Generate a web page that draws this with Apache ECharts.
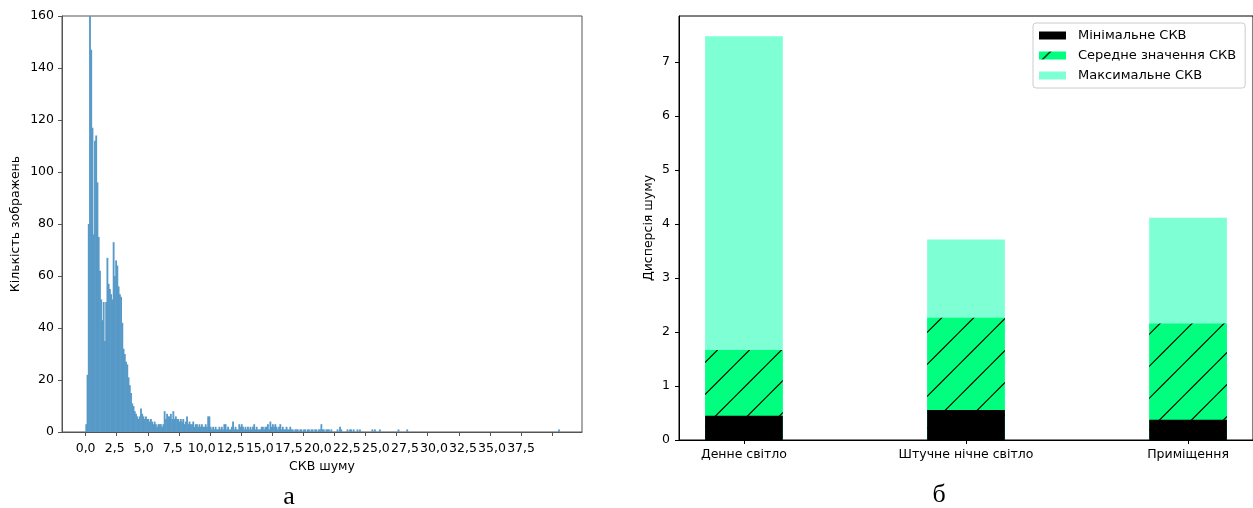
<!DOCTYPE html>
<html><head><meta charset="utf-8">
<script src="https://cdn.jsdelivr.net/npm/echarts@6/dist/echarts.min.js"></script>
<style>html,body{margin:0;padding:0;background:#fff}#c{width:1253px;height:508px}</style>
</head><body><div id="c"></div>
<script>
// ---------- Panel (а): histogram of noise SKV ----------
const histBinWidth = 0.1;           // bins start at 0.0
const histCounts = [
  3, 22, 80, 160, 147, 117, 76, 112, 114, 96,
  75, 62, 51, 43, 50, 35, 50, 67, 57, 55,
  53, 51, 73, 60, 66, 64, 56, 53, 52, 42,
  32, 30, 27, 26, 21, 18, 15, 11, 10, 8,
  7, 6, 5, 6, 9, 7, 6, 5, 6, 5,
  5, 4, 5, 4, 3, 4, 3, 2, 3, 3,
  3, 2, 3, 8, 5, 7, 6, 6, 7, 5,
  8, 5, 6, 5, 5, 4, 5, 4, 5, 3,
  4, 6, 3, 4, 3, 3, 4, 2, 3, 3,
  2, 3, 2, 3, 2, 2, 3, 2, 6, 6,
  2, 1, 2, 1, 2, 1, 1, 2, 1, 2,
  1, 3, 3, 1, 2, 1, 1, 2, 4, 1,
  2, 1, 1, 3, 2, 3, 2, 1, 2, 1,
  2, 1, 2, 1, 2, 3, 1, 2, 1, 1,
  1, 2, 2, 1, 2, 2, 3, 1, 4, 2,
  3, 2, 3, 2, 1, 2, 3, 1, 2, 1,
  1, 2, 1, 1, 2, 1, 1, 0, 1, 1,
  1, 0, 1, 1, 0, 1, 1, 0, 1, 1,
  0, 1, 1, 0, 1, 1, 0, 1, 1, 3,
  1, 1, 0, 1, 1, 1, 0, 1, 0, 0,
  0, 0, 1, 0, 2, 1, 0, 0, 0, 0,
  1, 0, 1, 1, 0, 1, 0, 0, 1, 0,
  1, 0, 0, 0, 0, 0, 0, 0, 0, 0,
  1, 0, 1, 0, 0, 0, 1, 0, 0, 0,
  0, 0, 0, 0, 0, 0, 0, 0, 0, 0,
  0, 1, 0, 0, 0, 0, 0, 0, 1, 0
];
const histFarStarts = [38.0];
const histFarCounts = [1];
const histTicks = [0, 2.5, 5, 7.5, 10, 12.5, 15, 17.5, 20, 22.5, 25, 27.5, 30, 32.5, 35, 37.5];
const histTickLabels = ['0,0','2,5','5,0','7,5','10,0','12,5','15,0','17,5','20,0','22,5','25,0','27,5','30,0','32,5','35,0','37,5'];

// ---------- Panel (б): noise dispersion ----------
const categories = ['Денне світло', 'Штучне нічне світло', 'Приміщення'];
const minSKV  = [0.45, 0.555, 0.376];
const meanSKV = [1.665, 2.263, 2.159];
const maxSKV  = [7.476, 3.714, 4.114];
const barYTicks = [0, 1, 2, 3, 4, 5, 6, 7];
const seriesNames = ['Мінімальне СКВ', 'Середне значення СКВ', 'Максимальне СКВ'];

// ---------- styles ----------
const FONT = 'DejaVu Sans';
const HIST_COLOR = '#5799c7';
const MIN_COLOR = '#000000', MEAN_COLOR = '#00ff7f', MAX_COLOR = '#7fffd4';
const BAR_W = 0.35;

function makeHatch() {
  const c = document.createElement('canvas');
  c.width = 32; c.height = 32;
  const g = c.getContext('2d');
  g.fillStyle = MEAN_COLOR; g.fillRect(0, 0, 32, 32);
  g.strokeStyle = '#000'; g.lineWidth = 1.2;
  g.beginPath();
  for (const k of [11.5, 43.5]) { g.moveTo(k + 3, -3); g.lineTo(-3, k + 3); }
  g.stroke();
  return c;
}
const hatchPattern = { image: makeHatch(), repeat: 'repeat' };

const histData = [];
histCounts.forEach((c, i) => { if (c > 0) histData.push([i * histBinWidth, c]); });
histFarStarts.forEach((s, i) => histData.push([s, histFarCounts[i]]));

const labelStep = 35 / 15; // label positions in the reference are compressed relative to ticks
const histLabelPos = histTickLabels.map((_, i) => i * labelStep);

function barSeries(name, values, fill, z) {
  return {
    type: 'custom', name, xAxisIndex: 1, yAxisIndex: 1, z,
    itemStyle: { color: fill },
    data: values.map((v, i) => [i, v]),
    renderItem(params, api) {
      const x = api.value(0), v = api.value(1);
      const p0 = api.coord([x - BAR_W / 2, v]);
      const p1 = api.coord([x + BAR_W / 2, 0]);
      return { type: 'rect', shape: { x: p0[0], y: p0[1], width: p1[0] - p0[0], height: p1[1] - p0[1] }, style: { fill } };
    }
  };
}

const tickText = { fontFamily: FONT, fontSize: 12.5, color: '#000' };

const option = {
  animation: false,
  backgroundColor: '#fff',
  textStyle: { fontFamily: FONT },
  grid: [
    { left: 62, top: 16, width: 520, height: 416, show: true, borderColor: '#555', borderWidth: 1, backgroundColor: 'transparent' },
    { left: 679, top: 16, width: 575, height: 424, show: true, borderColor: '#000', borderWidth: 1, backgroundColor: 'transparent' }
  ],
  xAxis: [
    { type: 'value', gridIndex: 0, min: -1.9, max: 39.9,
      splitLine: { show: false },
      axisLine: { onZero: false, lineStyle: { color: '#555' } },
      axisTick: { customValues: histTicks, length: 4, lineStyle: { color: '#555' } },
      axisLabel: { customValues: histLabelPos, margin: 10, ...tickText,
        formatter: v => histTickLabels[Math.round(v / labelStep)] },
      name: 'СКВ шуму', nameLocation: 'middle', nameGap: 28,
      nameTextStyle: { fontFamily: FONT, fontSize: 12.5, color: '#000' } },
    { type: 'value', gridIndex: 1, min: -0.2925, max: 2.2925,
      splitLine: { show: false },
      axisLine: { onZero: false, lineStyle: { color: '#000' } },
      axisTick: { customValues: [0, 1, 2], length: 4, lineStyle: { color: '#000' } },
      axisLabel: { customValues: [0, 1, 2], margin: 8, ...tickText,
        formatter: v => categories[Math.round(v)] } }
  ],
  yAxis: [
    { type: 'value', gridIndex: 0, min: 0, max: 160, interval: 20,
      splitLine: { show: false },
      axisLine: { show: true, onZero: false, lineStyle: { color: '#555' } },
      axisTick: { show: true, length: 4, lineStyle: { color: '#555' } },
      axisLabel: { margin: 8, ...tickText },
      name: 'Кількість зображень', nameLocation: 'middle', nameGap: 40,
      nameTextStyle: { fontFamily: FONT, fontSize: 12.5, color: '#000' } },
    { type: 'value', gridIndex: 1, min: 0, max: 7.85,
      splitLine: { show: false },
      axisLine: { show: true, onZero: false, lineStyle: { color: '#000' } },
      axisTick: { show: true, customValues: barYTicks, length: 4, lineStyle: { color: '#000' } },
      axisLabel: { customValues: barYTicks, margin: 9, ...tickText },
      name: 'Дисперсія шуму', nameLocation: 'middle', nameGap: 24,
      nameTextStyle: { fontFamily: FONT, fontSize: 12.5, color: '#000' } }
  ],
  legend: {
    orient: 'vertical', left: 1033, top: 23,
    data: seriesNames, icon: 'rect', itemWidth: 27, itemHeight: 8, itemGap: 7,
    padding: [6, 9, 6, 6], backgroundColor: 'rgba(255,255,255,0.8)',
    borderColor: '#ccc', borderWidth: 1, borderRadius: 3,
    textStyle: { fontFamily: FONT, fontSize: 13, color: '#000', padding: [0, 0, 0, 7] }
  },
  graphic: [
    { type: 'text', x: 289, y: 497, style: { text: 'а', font: '26px "Liberation Serif"', fill: '#000', align: 'center', verticalAlign: 'middle' } },
    { type: 'text', x: 939, y: 495, style: { text: 'б', font: '26px "Liberation Serif"', fill: '#000', align: 'center', verticalAlign: 'middle' } }
  ],
  series: [
    { type: 'custom', name: 'hist', xAxisIndex: 0, yAxisIndex: 0, clip: true,
      data: histData,
      renderItem(params, api) {
        const x0 = api.value(0), c = api.value(1);
        const p0 = api.coord([x0, c]);
        const p1 = api.coord([x0 + histBinWidth, 0]);
        return { type: 'rect', shape: { x: p0[0] - 0.3, y: p0[1], width: p1[0] - p0[0] + 0.6, height: p1[1] - p0[1] }, style: { fill: HIST_COLOR } };
      } },
    barSeries(seriesNames[2], maxSKV, MAX_COLOR, 2),
    barSeries(seriesNames[1], meanSKV, hatchPattern, 3),
    barSeries(seriesNames[0], minSKV, MIN_COLOR, 4)
  ]
};
const chart = echarts.init(document.getElementById('c'), null, { renderer: 'canvas' });
chart.setOption(option);
</script></body></html>
